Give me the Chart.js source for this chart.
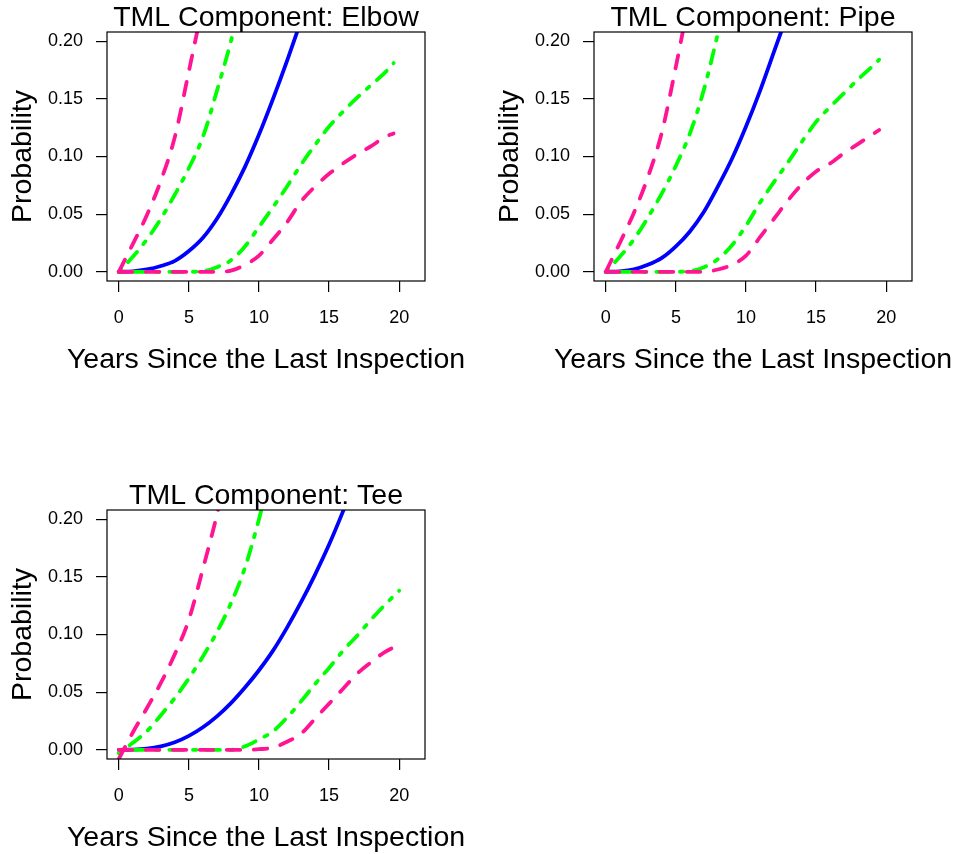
<!DOCTYPE html>
<html>
<head>
<meta charset="utf-8">
<script src="https://cdn.jsdelivr.net/npm/chart.js@4.4.1/dist/chart.umd.min.js"></script>
<style>
  body { margin: 0; background: #fff; overflow: hidden; }
  #page { position: relative; width: 959px; height: 854px; overflow: hidden; background: #fff; }
  #page canvas { position: absolute; }
</style>
</head>
<body>
<div id="page">
  <canvas id="elbow" width="480" height="427" style="left:0;top:0"></canvas>
  <canvas id="pipe" width="480" height="427" style="left:487px;top:0"></canvas>
  <canvas id="tee" width="480" height="427" style="left:0;top:478px"></canvas>
</div>
<script>
// axis ticks (same on every panel)
const xTicks = [0, 5, 10, 15, 20];
const xTickLabels = ['0', '5', '10', '15', '20'];
const yTicks = [0, 0.05, 0.10, 0.15, 0.20];
const yTickLabels = ['0.00', '0.05', '0.10', '0.15', '0.20'];
const xTitle = 'Years Since the Last Inspection';
const yTitle = 'Probability';

// Elbow
const elbowYears = [0, 1, 2, 3, 4, 5, 6, 7, 8, 9, 10, 11, 12, 13, 14, 15, 16, 17, 18, 19, 19.6];
const elbowMedian = [0, 0.0004, 0.002, 0.005, 0.0095, 0.018, 0.0295, 0.046, 0.067, 0.091, 0.119, 0.150, 0.183, 0.218];
const elbowInnerUpper = [0, 0.013, 0.028, 0.046, 0.067, 0.090, 0.117, 0.157, 0.200, 0.250];
const elbowInnerLower = [0, 0, 0, 0, 0, 0, 0.0005, 0.004, 0.010, 0.022, 0.039, 0.056, 0.074, 0.093, 0.110, 0.126, 0.139, 0.151, 0.162, 0.173, 0.181];
const elbowOuterUpper = [0, 0.024, 0.049, 0.079, 0.117, 0.174, 0.232];
const elbowOuterLower = [0, 0, 0, 0, 0, 0, 0, 0, 0.001, 0.006, 0.014, 0.028, 0.043, 0.061, 0.074, 0.085, 0.094, 0.102, 0.109, 0.117, 0.120];

// Pipe
const pipeYears = [0, 1, 2, 3, 4, 5, 6, 7, 8, 9, 10, 11, 12, 13, 14, 15, 16, 17, 18, 19, 19.5];
const pipeMedian = [0, 0.0004, 0.002, 0.006, 0.012, 0.022, 0.035, 0.052, 0.074, 0.098, 0.126, 0.157, 0.191, 0.225];
const pipeInnerUpper = [0, 0.013, 0.028, 0.047, 0.068, 0.092, 0.120, 0.158, 0.207, 0.260];
const pipeInnerLower = [0, 0, 0, 0, 0, 0, 0.0005, 0.004, 0.011, 0.023, 0.040, 0.060, 0.078, 0.095, 0.113, 0.130, 0.143, 0.155, 0.167, 0.178, 0.184];
const pipeOuterUpper = [0, 0.025, 0.051, 0.082, 0.121, 0.178, 0.240];
const pipeOuterLower = [0, 0, 0, 0, 0, 0, 0, 0, 0.002, 0.006, 0.014, 0.030, 0.046, 0.062, 0.076, 0.087, 0.094, 0.103, 0.111, 0.119, 0.123];

// Tee
const teeYears = [0, 1, 2, 3, 4, 5, 6, 7, 8, 9, 10, 11, 12, 13, 14, 15, 16, 17, 18, 19, 20];
const teeMedian = [0, 0.0002, 0.001, 0.003, 0.0065, 0.012, 0.0195, 0.029, 0.0405, 0.054, 0.069, 0.086, 0.106, 0.128, 0.152, 0.178, 0.207, 0.238];
const teeInnerUpper = [-0.003, 0.006, 0.016, 0.030, 0.045, 0.062, 0.081, 0.102, 0.127, 0.158, 0.200, 0.250];
const teeInnerLower = [0, 0, 0, 0, 0, 0, 0, 0, 0, 0.003, 0.009, 0.016, 0.028, 0.042, 0.057, 0.071, 0.086, 0.099, 0.113, 0.126, 0.138];
const teeOuterUpper = [-0.008, 0.015, 0.036, 0.058, 0.083, 0.113, 0.157, 0.204, 0.260];
const teeOuterLower = [0, 0, 0, 0, 0, 0, 0, 0, 0, 0, 0.0005, 0.002, 0.007, 0.014, 0.027, 0.040, 0.053, 0.066, 0.076, 0.085, 0.091];

const FONT = "'Liberation Sans', Arial, Helvetica, sans-serif";
Chart.defaults.font.family = FONT;
Chart.defaults.color = '#000';

const LW = 3.8;
const BLUE = '#0000FF';
const GREEN = '#00FF00';
const PINK = '#FF1493';

// draws the full box around the plot region
const boxPlugin = {
  id: 'box',
  afterDraw(chart) {
    const a = chart.chartArea;
    const ctx = chart.ctx;
    ctx.save();
    ctx.strokeStyle = '#000';
    ctx.lineWidth = 1.2;
    ctx.strokeRect(a.left, a.top, a.right - a.left, a.bottom - a.top);
    ctx.restore();
  }
};

// x axis label, wider than the plot so the scale title would squeeze it
const xLabelPlugin = {
  id: 'xLabel',
  afterDraw(chart, args, opts) {
    const a = chart.chartArea;
    const ctx = chart.ctx;
    ctx.save();
    ctx.fillStyle = '#000';
    ctx.font = '28.5px ' + FONT;
    ctx.textAlign = 'center';
    ctx.textBaseline = 'alphabetic';
    ctx.fillText(opts.text, (a.left + a.right) / 2, 368);
    ctx.restore();
  }
};

function toPoints(xs, ys) {
  return ys.map((y, i) => ({ x: xs[i], y: y }));
}

function lineSet(xs, ys, color, dash) {
  return {
    data: toPoints(xs, ys),
    borderColor: color,
    borderWidth: LW,
    borderDash: dash,
    borderCapStyle: 'round',
    borderJoinStyle: 'round',
    pointRadius: 0,
    fill: false,
    cubicInterpolationMode: 'monotone',
    clip: 0
  };
}

function makePanel(id, title, years, median, innerUp, innerLow, outerUp, outerLow) {
  const dashed = [13.5, 13.5];
  const dotDash = [3.4, 10.1, 13.5, 10.1];
  new Chart(document.getElementById(id), {
    type: 'line',
    data: {
      datasets: [
        lineSet(years, outerUp, PINK, dashed),
        lineSet(years, outerLow, PINK, dashed),
        lineSet(years, innerUp, GREEN, dotDash),
        lineSet(years, innerLow, GREEN, dotDash),
        lineSet(years, median, BLUE, [])
      ]
    },
    options: {
      responsive: false,
      animation: false,
      devicePixelRatio: 1,
      events: [],
      layout: { padding: { left: 0, top: 0, right: 55, bottom: 0 } },
      plugins: {
        legend: { display: false },
        tooltip: { enabled: false },
        title: {
          display: true,
          text: title,
          fullSize: false,
          color: '#000',
          font: { size: 28.5, weight: 'normal', lineHeight: '28px' },
          padding: { top: 4, bottom: 0 }
        },
        xLabel: { text: xTitle }
      },
      scales: {
        x: {
          type: 'linear',
          min: -0.84,
          max: 21.84,
          afterBuildTicks: s => { s.ticks = xTicks.map(v => ({ value: v })); },
          afterFit: s => { s.height = 146; },
          ticks: {
            autoSkip: false,
            maxRotation: 0,
            padding: 15,
            color: '#000',
            font: { size: 18 },
            callback: (v, i) => xTickLabels[i]
          },
          grid: { drawOnChartArea: false, drawTicks: true, tickLength: 11, color: '#000', lineWidth: 1.2 },
          border: { display: false }
        },
        y: {
          type: 'linear',
          min: -0.008,
          max: 0.208,
          afterBuildTicks: s => { s.ticks = yTicks.map(v => ({ value: v })); },
          afterFit: s => { s.width = 107; },
          ticks: {
            autoSkip: false,
            padding: 13,
            color: '#000',
            font: { size: 18 },
            callback: (v, i) => yTickLabels[i]
          },
          grid: { drawOnChartArea: false, drawTicks: true, tickLength: 11, color: '#000', lineWidth: 1.2 },
          border: { display: false },
          title: {
            display: true,
            text: yTitle,
            color: '#000',
            font: { size: 28.5, lineHeight: '28px' },
            padding: { top: 9, bottom: 0 }
          }
        }
      }
    },
    plugins: [boxPlugin, xLabelPlugin]
  });
}

makePanel('elbow', 'TML Component: Elbow', elbowYears, elbowMedian, elbowInnerUpper, elbowInnerLower, elbowOuterUpper, elbowOuterLower);
makePanel('pipe', 'TML Component: Pipe', pipeYears, pipeMedian, pipeInnerUpper, pipeInnerLower, pipeOuterUpper, pipeOuterLower);
makePanel('tee', 'TML Component: Tee', teeYears, teeMedian, teeInnerUpper, teeInnerLower, teeOuterUpper, teeOuterLower);
</script>
</body>
</html>
